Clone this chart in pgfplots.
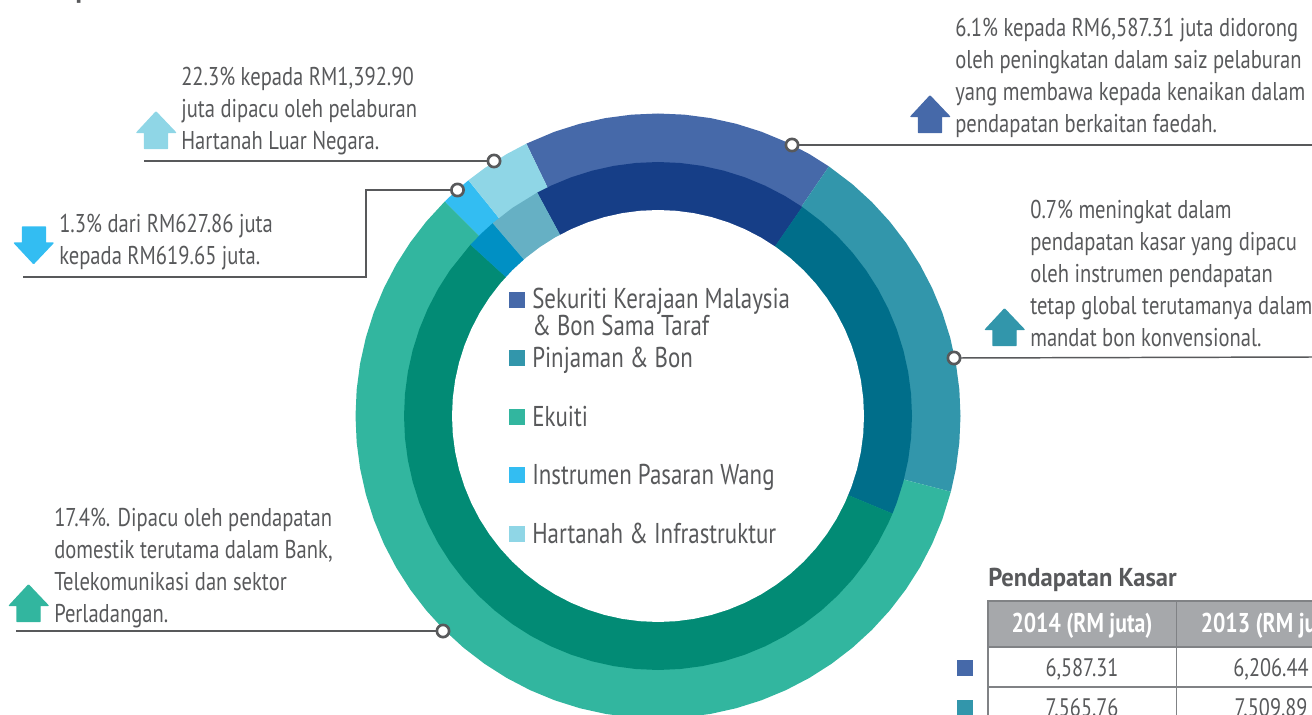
\documentclass[border=0pt]{standalone}
\usepackage{pgfplots}
\pgfplotsset{compat=1.18}
\usepackage{fontspec}
\setmainfont[FakeStretch=0.8]{PT Sans}
\newfontfamily\heavy[FakeStretch=0.95]{PT Sans}
\definecolor{cBlue}{HTML}{4669A9}\definecolor{dBlue}{HTML}{163E87}
\definecolor{cTeal}{HTML}{3296AB}\definecolor{dTeal}{HTML}{006E8A}
\definecolor{cGreen}{HTML}{32B69F}\definecolor{dGreen}{HTML}{028B75}
\definecolor{cCyan}{HTML}{33BDF2}\definecolor{dCyan}{HTML}{0090C4}
\definecolor{cLight}{HTML}{8FD6E6}\definecolor{dLight}{HTML}{66B0C4}
\definecolor{ink}{HTML}{58595B}\definecolor{rule}{HTML}{808285}\definecolor{head}{HTML}{A6A8AB}
\newcommand{\tx}[3]{\node[anchor=base west,inner sep=0pt,text=ink,font=\fontsize{19.3}{23}\selectfont] at (axis cs:#1,#2) {#3};}
\newcommand{\lgd}[3]{\node[anchor=base west,inner sep=0pt,text=ink,font=\fontsize{21.5}{25}\selectfont] at (axis cs:#1,#2) {#3};}
\pgfplotsset{base/.style={hide axis,scale only axis,width=984pt,height=535.5pt,clip=false}}
\begin{document}
\begin{tikzpicture}
\useasboundingbox (0,0) rectangle (984pt,535.5pt);
\clip (0,0) rectangle (984pt,535.5pt);
\begin{axis}[base,xmin=-658,xmax=654,ymin=-298,ymax=416]
% outer ring
\addplot[fill=cBlue,draw=none,data cs=polar] coordinates {(0,0)(115.8,302.5)(110,302.5)(105,302.5)(100,302.5)(95,302.5)(90,302.5)(85,302.5)(80,302.5)(75,302.5)(70,302.5)(65,302.5)(60,302.5)(55.6,302.5)};
\addplot[fill=cTeal,draw=none,data cs=polar] coordinates {(0,0)(55.6,302.5)(50,302.5)(45,302.5)(40,302.5)(35,302.5)(30,302.5)(25,302.5)(20,302.5)(15,302.5)(10,302.5)(5,302.5)(0,302.5)(-5,302.5)(-10,302.5)(-14.5,302.5)};
\addplot[fill=cGreen,draw=none,data cs=polar] coordinates {(0,0)(-14.5,302.5)(-20,302.5)(-25,302.5)(-30,302.5)(-35,302.5)(-40,302.5)(-45,302.5)(-50,302.5)(-55,302.5)(-60,302.5)(-65,302.5)(-70,302.5)(-75,302.5)(-80,302.5)(-85,302.5)(-90,302.5)(-95,302.5)(-100,302.5)(-105,302.5)(-110,302.5)(-115,302.5)(-120,302.5)(-125,302.5)(-130,302.5)(-135,302.5)(-140,302.5)(-145,302.5)(-150,302.5)(-155,302.5)(-160,302.5)(-165,302.5)(-170,302.5)(-175,302.5)(-180,302.5)(-185,302.5)(-190,302.5)(-195,302.5)(-200,302.5)(-205,302.5)(-210,302.5)(-215,302.5)(-220,302.5)(-225.2,302.5)};
\addplot[fill=cCyan,draw=none,data cs=polar] coordinates {(0,0)(134.8,302.5)(132,302.5)(128.8,302.5)};
\addplot[fill=cLight,draw=none,data cs=polar] coordinates {(0,0)(128.8,302.5)(125,302.5)(120,302.5)(115.8,302.5)};
% inner ring
\addplot[fill=dBlue,draw=none,data cs=polar] coordinates {(0,0)(118.4,254)(115,254)(110,254)(105,254)(100,254)(95,254)(90,254)(85,254)(80,254)(75,254)(70,254)(65,254)(60,254)(55.4,254)};
\addplot[fill=dTeal,draw=none,data cs=polar] coordinates {(0,0)(55.4,254)(50,254)(45,254)(40,254)(35,254)(30,254)(25,254)(20,254)(15,254)(10,254)(5,254)(0,254)(-5,254)(-10,254)(-15,254)(-20,254)(-22.6,254)};
\addplot[fill=dGreen,draw=none,data cs=polar] coordinates {(0,0)(-22.6,254)(-25,254)(-30,254)(-35,254)(-40,254)(-45,254)(-50,254)(-55,254)(-60,254)(-65,254)(-70,254)(-75,254)(-80,254)(-85,254)(-90,254)(-95,254)(-100,254)(-105,254)(-110,254)(-115,254)(-120,254)(-125,254)(-130,254)(-135,254)(-140,254)(-145,254)(-150,254)(-155,254)(-160,254)(-165,254)(-170,254)(-175,254)(-180,254)(-185,254)(-190,254)(-195,254)(-200,254)(-205,254)(-210,254)(-215,254)(-222.4,254)};
\addplot[fill=dCyan,draw=none,data cs=polar] coordinates {(0,0)(137.6,254)(134,254)(130.6,254)};
\addplot[fill=dLight,draw=none,data cs=polar] coordinates {(0,0)(130.6,254)(125,254)(118.4,254)};
% hole
\addplot[fill=white,draw=none,data cs=polar] coordinates {(0,206)(5,206)(10,206)(15,206)(20,206)(25,206)(30,206)(35,206)(40,206)(45,206)(50,206)(55,206)(60,206)(65,206)(70,206)(75,206)(80,206)(85,206)(90,206)(95,206)(100,206)(105,206)(110,206)(115,206)(120,206)(125,206)(130,206)(135,206)(140,206)(145,206)(150,206)(155,206)(160,206)(165,206)(170,206)(175,206)(180,206)(185,206)(190,206)(195,206)(200,206)(205,206)(210,206)(215,206)(220,206)(225,206)(230,206)(235,206)(240,206)(245,206)(250,206)(255,206)(260,206)(265,206)(270,206)(275,206)(280,206)(285,206)(290,206)(295,206)(300,206)(305,206)(310,206)(315,206)(320,206)(325,206)(330,206)(335,206)(340,206)(345,206)(350,206)(355,206)};
\end{axis}
\begin{axis}[base,xmin=0,xmax=1312,ymin=0,ymax=714,y dir=reverse]
% table
\addplot[fill=head,draw=none] coordinates {(988,601)(1312,601)(1312,647)(988,647)};
\addplot[draw=rule,line width=1.1pt] coordinates {(1312,601)(988,601)(988,720)};
\addplot[draw=rule,line width=1.1pt] coordinates {(1176.5,601)(1176.5,720)};
\addplot[draw=rule,line width=1.1pt] coordinates {(988,647)(1312,647)};
\addplot[draw=rule,line width=1.1pt] coordinates {(988,687)(1312,687)};
\addplot[fill=cBlue,draw=none] coordinates {(957,660)(973,660)(973,676)(957,676)};
\addplot[fill=cTeal,draw=none] coordinates {(957,700)(973,700)(973,716)(957,716)};
% legend squares
\addplot[fill=cBlue,draw=none] coordinates {(509,292)(525,292)(525,308)(509,308)};
\addplot[fill=cTeal,draw=none] coordinates {(509,350)(525,350)(525,366)(509,366)};
\addplot[fill=cGreen,draw=none] coordinates {(509,409)(525,409)(525,425)(509,425)};
\addplot[fill=cCyan,draw=none] coordinates {(509,467)(525,467)(525,483)(509,483)};
\addplot[fill=cLight,draw=none] coordinates {(509,526)(525,526)(525,542)(509,542)};
% leader lines
\addplot[draw=ink,line width=1.1pt] coordinates {(144,161)(494,161)};
\addplot[draw=ink,line width=1.1pt] coordinates {(23,277)(366,277)(366,190)(457,190)};
\addplot[draw=ink,line width=1.1pt] coordinates {(792,145)(1312,145)};
\addplot[draw=ink,line width=1.1pt] coordinates {(954,358)(1312,357)};
\addplot[draw=ink,line width=1.1pt] coordinates {(16,631)(443,631)};
\addplot[only marks,mark=*,mark size=4.6pt,mark options={fill=white,draw=ink,line width=2pt}] coordinates {(494,161)(457.5,190)(792,145)(954,358)(443,631)};
% arrows
\addplot[fill=cLight,draw=cLight,line width=1pt,line join=round] coordinates {(156,112)(175.5,132.5)(167.5,132.5)(167.5,148.5)(144.5,148.5)(144.5,132.5)(137,132.5)(156,112)};
\addplot[fill=cBlue,draw=cBlue,line width=1pt,line join=round] coordinates {(930,96)(949.5,116.5)(941.5,116.5)(941.5,132.5)(918.5,132.5)(918.5,116.5)(911,116.5)(930,96)};
\addplot[fill=cTeal,draw=cTeal,line width=1pt,line join=round] coordinates {(1004.5,309)(1024,329.5)(1016,329.5)(1016,345.5)(993,345.5)(993,329.5)(985.5,329.5)(1004.5,309)};
\addplot[fill=cGreen,draw=cGreen,line width=1pt,line join=round] coordinates {(28.5,585)(48,605.5)(40,605.5)(40,621.5)(17,621.5)(17,605.5)(9.5,605.5)(28.5,585)};
\addplot[fill=cCyan,draw=cCyan,line width=1pt,line join=round] coordinates {(33.6,263.5)(53,243)(45.5,243)(45.5,227)(22.5,227)(22.5,243)(14.5,243)(33.6,263.5)};
% annotations
\tx{181}{85.5}{22.3\% kepada RM1,392.90}
\tx{181}{117.5}{juta dipacu oleh pelaburan}
\tx{181}{149}{Hartanah Luar Negara.}
\tx{59}{232}{1.3\% dari RM627.86 juta}
\tx{59}{264}{kepada RM619.65 juta.}
\tx{955}{36}{6.1\% kepada RM6,587.31 juta didorong}
\tx{955}{68}{oleh peningkatan dalam saiz pelaburan}
\tx{955}{100}{yang membawa kepada kenaikan dalam}
\tx{955}{132}{pendapatan berkaitan faedah.}
\tx{1030}{218}{0.7\% meningkat dalam}
\tx{1030}{250}{pendapatan kasar yang dipacu}
\tx{1030}{282}{oleh instrumen pendapatan}
\tx{1030}{314}{tetap global terutamanya dalam}
\tx{1030}{346}{mandat bon konvensional.}
\tx{54}{526}{17.4\%. Dipacu oleh pendapatan}
\tx{54}{558}{domestik terutama dalam Bank,}
\tx{54}{590}{Telekomunikasi dan sektor}
\tx{54}{622}{Perladangan.}
% legend
\lgd{532}{308}{Sekuriti Kerajaan Malaysia}
\lgd{532}{335}{\& Bon Sama Taraf}
\lgd{532}{367}{Pinjaman \& Bon}
\lgd{532}{426}{Ekuiti}
\lgd{532}{484}{Instrumen Pasaran Wang}
\lgd{532}{543}{Hartanah \& Infrastruktur}
% heading fragment and table text
\node[anchor=base west,inner sep=0pt,text=ink,font=\heavy\fontsize{22}{26}\selectfont\bfseries] at (axis cs:75,-3) {p};
\node[anchor=base west,inner sep=0pt,text=ink,font=\heavy\fontsize{19.4}{23}\selectfont\bfseries] at (axis cs:988,586.5) {Pendapatan Kasar};
\node[anchor=base,inner sep=0pt,text=white,font=\fontsize{20.4}{24}\selectfont\bfseries] at (axis cs:1082,632.5) {2014 (RM juta)};
\node[anchor=base west,inner sep=0pt,text=white,font=\fontsize{20.4}{24}\selectfont\bfseries] at (axis cs:1200.5,632.5) {2013 (RM juta)};
\node[anchor=base,inner sep=0pt,text=ink,font=\fontsize{19}{23}\selectfont] at (axis cs:1082,676) {6,587.31};
\node[anchor=base,inner sep=0pt,text=ink,font=\fontsize{19}{23}\selectfont] at (axis cs:1271,676) {6,206.44};
\node[anchor=base,inner sep=0pt,text=ink,font=\fontsize{19}{23}\selectfont] at (axis cs:1082,716) {7,565.76};
\node[anchor=base,inner sep=0pt,text=ink,font=\fontsize{19}{23}\selectfont] at (axis cs:1271,716) {7,509.89};
\end{axis}
\end{tikzpicture}
\end{document}
